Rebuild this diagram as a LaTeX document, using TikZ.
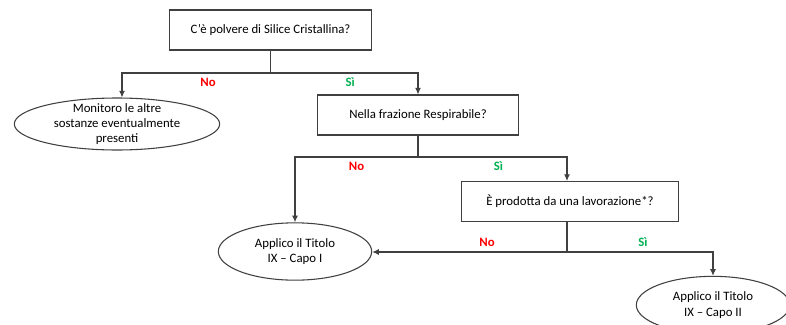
\documentclass[tikz,border=0pt]{standalone}
\usepackage{fontspec}
\setmainfont{Carlito}
\usepackage{xcolor}
\usetikzlibrary{arrows.meta,shapes.geometric}

\definecolor{noRed}{HTML}{FF0000}
\definecolor{siGreen}{HTML}{00B050}
\definecolor{lineGray}{HTML}{404040}

\tikzset{
  qbox/.style={draw=lineGray, line width=0.8pt, minimum width=151pt, minimum height=30pt, inner sep=2pt, font=\fontsize{9.6}{11.4}\selectfont},
  endell/.style={ellipse, draw=lineGray, line width=0.8pt, inner xsep=0pt, inner ysep=-3pt, align=center, font=\fontsize{9.6}{11.4}\selectfont},
  link/.style={draw=lineGray, line width=0.8pt},
  arr/.style={link, -{Latex[length=5pt,width=4.5pt]}},
  nolab/.style={text=noRed, font=\fontsize{9.6}{11}\selectfont\bfseries},
  silab/.style={text=siGreen, font=\fontsize{9.6}{11}\selectfont\bfseries}
}

\begin{document}
\begin{tikzpicture}[x=0.75pt, y=-0.75pt]
\useasboundingbox (0,0) rectangle (786,325);

% domande
\node[qbox] (q1) at (270.5,30) {C'è polvere di Silice Cristallina?};
\node[qbox] (q2) at (418,115) {Nella frazione Respirabile?};
\node[qbox, minimum width=163pt] (q3) at (570,201.5) {È prodotta da una lavorazione*?};

% esiti
\node[endell, minimum width=154pt, minimum height=39pt] (mon) at (117,124) {Monitoro le altre\\sostanze eventualmente\\presenti};
\node[endell, minimum width=115pt, minimum height=43pt] (capo1) at (295,251.5) {Applico il Titolo\\IX -- Capo I};
\node[endell, minimum width=115pt, minimum height=43pt] (capo2) at (713,305) {Applico il Titolo\\IX -- Capo II};

% snodi
\coordinate (j1) at (270.5,73);
\coordinate (j2) at (418,157);
\coordinate (j3) at (567,252);

\draw[link] (q1.south) -- (j1);
\draw[arr] (j1) -| node[nolab, pos=0.21, below] (no1) {No} (mon.north -| 122,0);
\draw[arr] (j1) -| node[silab, pos=0.27, below] (si1) {Sì} (q2.north);

\draw[link] (q2.south) -- (j2);
\draw[arr] (j2) -| node[nolab, pos=0.25, below] (no2) {No} (capo1.north);
\draw[arr] (j2) -| node[silab, pos=0.27, below] (si2) {Sì} (q3.north -| j3);

\draw[link] (q3.south -| j3) -- (j3);
\draw[arr] (j3) -- node[nolab, pos=0.41, above] (no3) {No} (capo1.east |- j3);
\draw[arr] (j3) -| node[silab, pos=0.26, above] (si3) {Sì} (capo2.north);
\end{tikzpicture}
\end{document}
